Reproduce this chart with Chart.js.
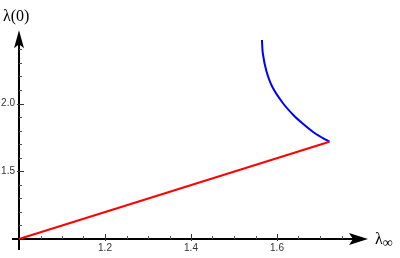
<!DOCTYPE html>
<html>
<head>
<meta charset="utf-8">
<script src="https://cdn.jsdelivr.net/npm/chart.js@4"></script>
<style>
  html, body { margin: 0; padding: 0; background: #fff; }
  #wrap { width: 400px; height: 258px; }
</style>
</head>
<body>
<div id="wrap"><canvas id="c" width="400" height="258"></canvas></div>
<script>
// dados
const redX = [1.0, 1.722];
const redY = [1.0, 1.718];
const blueX = [1.565, 1.567, 1.575, 1.589, 1.614, 1.638, 1.659, 1.684, 1.705, 1.722];
const blueY = [2.469, 2.371, 2.244, 2.124, 2.002, 1.915, 1.854, 1.790, 1.748, 1.718];

const xTicks = [1.2, 1.4, 1.6];
const xTickLabels = ["1.2", "1.4", "1.6"];
const yTicks = [1.5, 2.0];
const yTickLabels = ["1.5", "2.0"];

const xTitle = "λ";
const xTitleSub = "∞";
const yTitle = "λ(0)";

function pts(xs, ys) {
  return xs.map((x, i) => ({ x: x, y: ys[i] }));
}

// eixos estilo Mathematica
const axesPlugin = {
  id: "axes",
  beforeDatasetsDraw(chart) {
    const ctx = chart.ctx;
    const sx = chart.scales.x;
    const sy = chart.scales.y;
    const x0 = sx.getPixelForValue(1.0);
    const y0 = sy.getPixelForValue(1.0);
    const xEnd = sx.getPixelForValue(1.8);
    const yEnd = sy.getPixelForValue(2.54);

    ctx.save();
    ctx.strokeStyle = "#000";
    ctx.fillStyle = "#000";
    ctx.lineWidth = 2;

    // linhas
    ctx.beginPath();
    ctx.moveTo(x0 - 7, y0);
    ctx.lineTo(xEnd - 10, y0);
    ctx.moveTo(x0, y0 + 11);
    ctx.lineTo(x0, yEnd + 12);
    ctx.stroke();

    // setas
    ctx.beginPath();
    ctx.moveTo(xEnd + 5, y0);
    ctx.lineTo(xEnd - 14, y0 - 6);
    ctx.lineTo(xEnd - 10, y0);
    ctx.lineTo(xEnd - 14, y0 + 6);
    ctx.closePath();
    ctx.fill();

    ctx.beginPath();
    ctx.moveTo(x0, yEnd);
    ctx.lineTo(x0 - 5, yEnd + 18);
    ctx.lineTo(x0, yEnd + 14);
    ctx.lineTo(x0 + 5, yEnd + 18);
    ctx.closePath();
    ctx.fill();

    // ticks menores
    ctx.lineWidth = 1;
    ctx.strokeStyle = "#555";
    ctx.beginPath();
    for (let i = 1; i <= 15; i++) {
      const px = Math.round(sx.getPixelForValue(1 + i * 0.05)) + 0.5;
      ctx.moveTo(px, y0);
      ctx.lineTo(px, y0 - 3);
    }
    for (let i = 1; i <= 14; i++) {
      const py = Math.round(sy.getPixelForValue(1 + i * 0.1)) + 0.5;
      ctx.moveTo(x0, py);
      ctx.lineTo(x0 + 3, py);
    }
    ctx.stroke();

    // ticks maiores
    ctx.strokeStyle = "#333";
    ctx.beginPath();
    xTicks.forEach(v => {
      const px = Math.round(sx.getPixelForValue(v)) + 0.5;
      ctx.moveTo(px, y0 + 2);
      ctx.lineTo(px, y0 - 5);
    });
    yTicks.forEach(v => {
      const py = Math.round(sy.getPixelForValue(v)) + 0.5;
      ctx.moveTo(x0 - 2, py);
      ctx.lineTo(x0 + 5, py);
    });
    ctx.stroke();

    // rótulos
    ctx.fillStyle = "#333";
    ctx.font = "10px 'Liberation Sans', Arial, sans-serif";
    ctx.textAlign = "center";
    ctx.textBaseline = "top";
    xTicks.forEach((v, i) => {
      ctx.fillText(xTickLabels[i], sx.getPixelForValue(v), y0 + 4);
    });
    ctx.textAlign = "right";
    ctx.textBaseline = "middle";
    yTicks.forEach((v, i) => {
      ctx.fillText(yTickLabels[i], x0 - 4, sy.getPixelForValue(v));
    });

    // títulos
    ctx.fillStyle = "#000";
    ctx.font = "16px 'Liberation Serif', 'Times New Roman', serif";
    ctx.textAlign = "left";
    ctx.textBaseline = "alphabetic";
    ctx.fillText(yTitle, 3, 21);
    ctx.fillText(xTitle, xEnd + 12, y0 + 5);
    const w = ctx.measureText(xTitle).width;
    ctx.font = "14px 'Liberation Serif', 'Times New Roman', serif";
    ctx.fillText(xTitleSub, xEnd + 12 + w, y0 + 8);
    ctx.restore();
  }
};

new Chart(document.getElementById("c"), {
  type: "scatter",
  data: {
    datasets: [
      {
        data: pts(redX, redY),
        showLine: true,
        borderColor: "#ff0000",
        borderWidth: 2,
        pointRadius: 0,
        clip: false
      },
      {
        data: pts(blueX, blueY),
        showLine: true,
        borderColor: "#0000ff",
        borderWidth: 2,
        pointRadius: 0,
        tension: 0.3,
        clip: false
      }
    ]
  },
  options: {
    responsive: false,
    animation: false,
    layout: { padding: { left: 19, right: 37, top: 29, bottom: 19 } },
    plugins: { legend: { display: false }, tooltip: { enabled: false } },
    scales: {
      x: { type: "linear", min: 1.0, max: 1.8, display: false },
      y: { type: "linear", min: 1.0, max: 2.55, display: false }
    }
  },
  plugins: [axesPlugin]
});
</script>
</body>
</html>
